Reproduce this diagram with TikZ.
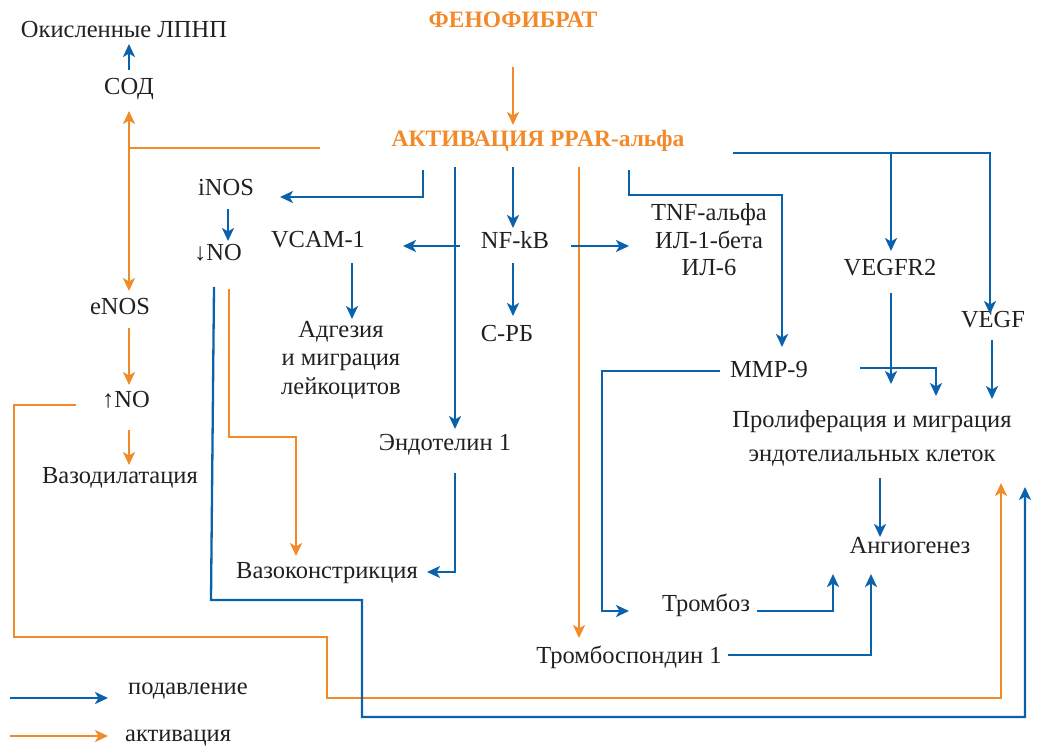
\documentclass[tikz,border=0pt]{standalone}
\usepackage{fontspec}
\setmainfont{Liberation Serif}
\usetikzlibrary{arrows.meta}
\definecolor{cblue}{HTML}{0A62AC}
\definecolor{corange}{HTML}{F28A2A}
\definecolor{ctext}{HTML}{231F20}
\tikzset{
  lbl/.style={text=ctext, font=\fontsize{24.5}{28}\selectfont, align=center, inner sep=0pt},
  hdr/.style={text=corange, font=\fontsize{23.5}{28}\selectfont\bfseries, inner sep=0pt},
  bl/.style={draw=cblue, line width=2.3pt},
  orl/.style={draw=corange, line width=2.3pt},
  tip/.style={-{Stealth[length=13pt,width=12pt,inset=3.5pt]}},
}
\begin{document}
\begin{tikzpicture}[x=1pt,y=-1pt]
\useasboundingbox (0,0) rectangle (1037,749);
% nodes
\node[hdr] (feno) at (513,20) {ФЕНОФИБРАТ};
\node[hdr] (ppar) at (538,141) {АКТИВАЦИЯ PPAR-альфа};
\node[lbl] (ldl) at (124,30) {Окисленные ЛПНП};
\node[lbl] (sod) at (129,89) {СОД};
\node[lbl] (inos) at (226,188) {iNOS};
\node[lbl] (dno) at (218,253) {↓NO};
\node[lbl] (vcam) at (318,240) {VCAM-1};
\node[lbl] (nfkb) at (515,240) {NF-kB};
\node[lbl, font=\fontsize{24.5}{27.5}\selectfont] (tnf) at (709,240) {TNF-альфа\\ИЛ-1-бета\\ИЛ-6};
\node[lbl] (vegfr) at (890,268) {VEGFR2};
\node[lbl] (vegf) at (993,320) {VEGF};
\node[lbl] (enos) at (120,307) {eNOS};
\node[lbl, font=\fontsize{24.5}{28.5}\selectfont] (adh) at (341,360) {Адгезия\\и миграция\\лейкоцитов};
\node[lbl] (crp) at (507,334) {С-РБ};
\node[lbl] (mmp) at (769,370) {MMP-9};
\node[lbl] (uno) at (126,400) {↑NO};
\node[lbl, font=\fontsize{24.5}{34}\selectfont] (prol) at (872,438) {Пролиферация и миграция\\эндотелиальных клеток};
\node[lbl] (endo) at (445,445) {Эндотелин 1};
\node[lbl] (vdil) at (120,478) {Вазодилатация};
\node[lbl] (angio) at (910,546) {Ангиогенез};
\node[lbl] (vcon) at (327,573) {Вазоконстрикция};
\node[lbl] (thr) at (706,605) {Тромбоз};
\node[lbl] (tsp) at (629,657) {Тромбоспондин 1};
\node[lbl, anchor=west] (sup) at (128,691) {подавление};
\node[lbl, anchor=west] (act) at (125,738) {активация};
% legend
\coordinate (lb0) at (10,698); \coordinate (lb1) at (108,698);
\coordinate (lo0) at (10,736); \coordinate (lo1) at (108,736);
\draw[bl,tip] (lb0) -- (lb1);
\draw[orl,tip] (lo0) -- (lo1);
% orange main
\coordinate (oj) at (129,148);
\draw[orl,tip] (513,67) -- (513,125);
\draw[orl,tip] (oj) -- (129,111);
\draw[orl,tip] (oj) -- (129,291);
\draw[orl] (320,148) -- (oj);
\draw[orl,tip] (129,328) -- (129,385);
\draw[orl,tip] (129,430) -- (129,465);
\draw[orl,tip] (579,167) -- (579,638);
\draw[orl,tip] (229,289) -- (229,437) -- (296,437) -- (296,556);
\draw[orl,tip] (76,405) -- (14,405) -- (14,637) -- (327,637) -- (327,698) -- (1001,698) -- (1001,483);
% blue
\draw[bl,tip] (129,70) -- (129,44);
\draw[bl,tip] (423,170) -- (423,197) -- (280,197);
\draw[bl,tip] (228,209) -- (228,241);
\draw[bl,tip] (513,167) -- (513,228);
\draw[bl,tip] (460,246) -- (403,246);
\draw[bl,tip] (571,246) -- (629,246);
\draw[bl,tip] (455,167) -- (455,429);
\draw[bl,tip] (629,170) -- (629,195) -- (782,195) -- (782,347);
\draw[bl,tip] (733,153) -- (990,153) -- (990,314);
\draw[bl,tip] (891,153) -- (891,251);
\draw[bl,tip] (352,263) -- (352,319);
\draw[bl,tip] (513,263) -- (513,316);
\draw[bl,tip] (455,473) -- (455,572) -- (427,572);
\draw[bl,tip] (214,287) -- (211,600) -- (362,600) -- (362,717) -- (1025,717) -- (1025,487);
\draw[bl,tip] (720,371) -- (602,371) -- (602,611) -- (629,611);
\draw[bl,tip] (860,368) -- (936,368) -- (936,396);
\draw[bl,tip] (891,293) -- (891,384);
\draw[bl,tip] (992,340) -- (992,399);
\draw[bl,tip] (880,478) -- (880,537);
\draw[bl,tip] (757,611) -- (833,611) -- (833,574);
\draw[bl,tip] (728,655) -- (871,655) -- (871,574);
\end{tikzpicture}
\end{document}
